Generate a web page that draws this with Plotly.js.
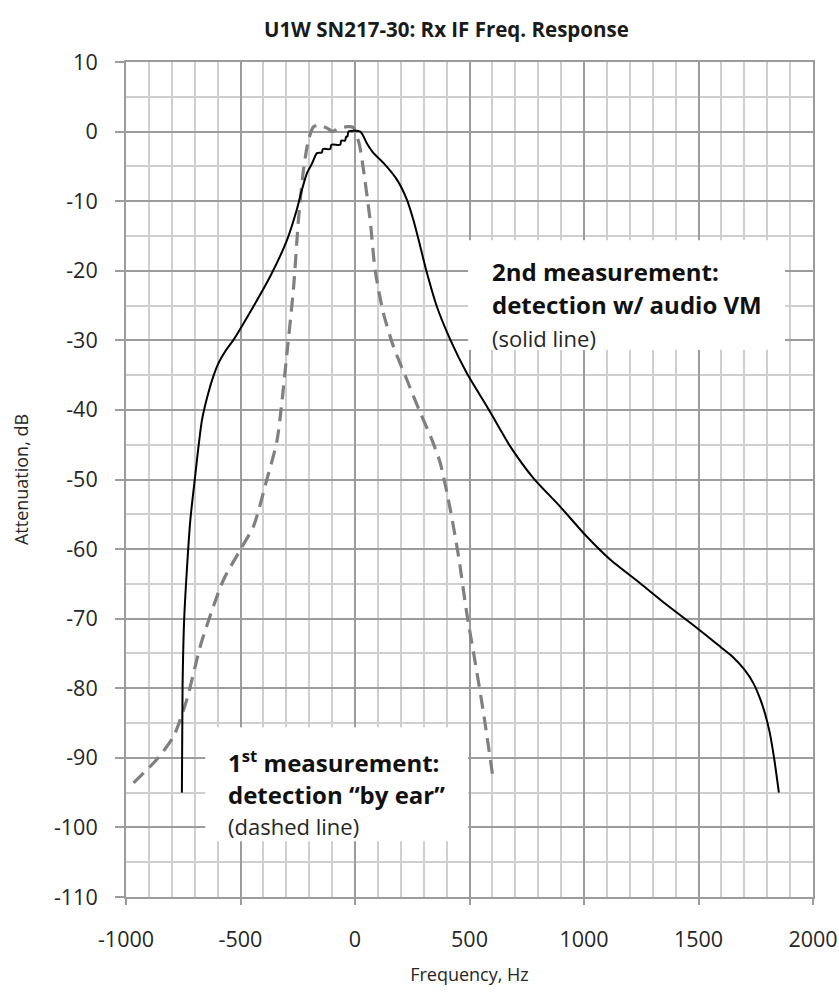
<!DOCTYPE html>
<html>
<head>
<meta charset="utf-8">
<script src="https://cdn.plot.ly/plotly-3.0.1.min.js"></script>
<style>
html,body{margin:0;padding:0;background:#fff;}
#chart{width:839px;height:1005px;}
</style>
</head>
<body>
<div id="chart"></div>
<script>
// 2nd measurement (solid line): detection with audio VM
const solidFreq = [-756, -753, -746, -734, -719, -698, -668, -640, -618, -595, -565, -530, -443, -370, -297, -254, -232, -210, -188, -166, -145, -140, -108, -103, -65, -60, -44, -38, -33, -28, 23, 52, 81, 124, 183, 227, 255, 285, 314, 357, 416, 488, 576, 634, 677, 779, 896, 1012, 1114, 1245, 1361, 1492, 1594, 1650, 1700, 1740, 1769, 1790, 1810, 1830, 1851];
const solidAtt  = [-95, -79.7, -70.1, -62.9, -55.8, -49.5, -41.4, -37.5, -35.1, -33.2, -31.5, -29.9, -25.1, -20.8, -15.6, -11.2, -8.4, -6.0, -4.6, -3.1, -3.0, -2.5, -2.5, -1.9, -1.9, -1.3, -1.3, -0.7, -0.7, 0, 0, -1.7, -3.1, -4.5, -6.9, -9.8, -12.7, -16.5, -20.3, -25.1, -29.9, -34.7, -39.5, -42.8, -45.2, -49.8, -53.9, -58.2, -61.5, -64.9, -68.0, -71.3, -74.0, -75.5, -77.3, -79.3, -81.5, -83.6, -86.2, -90.0, -95];

// 1st measurement (dashed line): detection by ear
const dashFreq = [-967, -865, -792, -734, -676, -618, -574, -501, -443, -385, -341, -297, -268, -247, -225, -203, -181, -160, -137, -108, -101, -72, -35, -7, 5, 20, 37, 66, 88, 124, 168, 227, 285, 330, 372, 416, 452, 488, 525, 561, 600];
const dashAtt  = [-93.6, -90.2, -86.9, -81.6, -74.0, -68.2, -64.4, -60.1, -56.7, -50.0, -44.5, -31.8, -22.3, -12.7, -5.5, -1.2, 0.7, 0.9, 0.7, 0.2, 0, 0.4, 0.7, 0.6, -0.3, -2.0, -5.5, -12.7, -19.9, -26.1, -30.9, -35.7, -40.4, -43.8, -47.6, -54.3, -61.0, -69.2, -76.3, -83.5, -92.3];

// axis ticks (hyphen-minus as in the reference)
const xTickVals = [-1000, -500, 0, 500, 1000, 1500, 2000];
const xTickText = ['-1000', '-500', '0', '500', '1000', '1500', '2000'];
const yTickVals = [10, 0, -10, -20, -30, -40, -50, -60, -70, -80, -90, -100, -110];
const yTickText = ['10', '0', '-10', '-20', '-30', '-40', '-50', '-60', '-70', '-80', '-90', '-100', '-110'];

const chartTitle = 'U1W SN217-30: Rx IF Freq. Response';
const xTitle = 'Frequency, Hz';
const yTitle = 'Attenuation, dB';

const FONT = '"Open Sans", Lato, "DejaVu Sans", sans-serif';
const MAJOR = '#9c9c9c';
const MINOR = '#cfcfcf';
const TXT = '#262626';

const traces = [
  {x: dashFreq, y: dashAtt, type: 'scatter', mode: 'lines', name: '1st measurement',
   line: {color: '#808080', width: 3.2, dash: '14px,8px', shape: 'spline', smoothing: 0.7}, hoverinfo: 'x+y'},
  {x: solidFreq, y: solidAtt, type: 'scatter', mode: 'lines', name: '2nd measurement',
   line: {color: '#000000', width: 2, shape: 'spline', smoothing: 0.7}, hoverinfo: 'x+y'}
];

const layout = {
  width: 839, height: 1005,
  margin: {l: 126, r: 26, t: 62, b: 108},
  paper_bgcolor: '#ffffff', plot_bgcolor: '#ffffff',
  showlegend: false,
  font: {family: FONT, color: TXT, size: 18},
  title: {text: '<b>' + chartTitle + '</b>', x: 0.532, xanchor: 'center', xref: 'container',
          y: 0.970, yanchor: 'middle', yref: 'container', font: {size: 20.5, color: '#1a1a1a', family: FONT}},
  xaxis: {
    range: [-1000, 2000], tickmode: 'array', tickvals: xTickVals, ticktext: xTickText, fixedrange: true,
    showgrid: true, gridcolor: MAJOR, gridwidth: 2,
    minor: {tickmode: 'linear', tick0: 0, dtick: 100, showgrid: true, gridcolor: MINOR, gridwidth: 2, ticks: ''},
    ticks: 'outside', ticklen: 6, tickwidth: 2, tickcolor: MAJOR,
    showline: true, linecolor: MAJOR, linewidth: 2, mirror: true,
    zeroline: false,
    tickfont: {size: 21.5, color: TXT}, ticklabelstandoff: 16,
    title: {text: xTitle, font: {size: 18, color: TXT}, standoff: 17}
  },
  yaxis: {
    range: [-110, 10], tickmode: 'array', tickvals: yTickVals, ticktext: yTickText, fixedrange: true,
    showgrid: true, gridcolor: MAJOR, gridwidth: 2,
    minor: {tickmode: 'linear', tick0: 0, dtick: 5, showgrid: true, gridcolor: MINOR, gridwidth: 2, ticks: ''},
    ticks: 'outside', ticklen: 9, tickwidth: 2, tickcolor: MAJOR,
    showline: true, linecolor: MAJOR, linewidth: 2, mirror: true,
    zeroline: false,
    tickfont: {size: 21.5, color: TXT}, ticklabelstandoff: 13,
    title: {text: yTitle, font: {size: 18, color: TXT}, standoff: 21}
  },
  shapes: [
    {type: 'rect', xref: 'x', yref: 'y', x0: 494, x1: 1878, y0: -31.4, y1: -15.6,
     fillcolor: '#ffffff', line: {width: 0}, layer: 'above'},
    {type: 'rect', xref: 'x', yref: 'y', x0: -654, x1: 494, y0: -102, y1: -85.6,
     fillcolor: '#ffffff', line: {width: 0}, layer: 'above'}
  ],
  annotations: [
    {text: '<b>2nd measurement:</b>', x: 590, y: -20.1, xref: 'x', yref: 'y', xanchor: 'left', yanchor: 'middle', showarrow: false, font: {size: 24, color: '#111'}},
    {text: '<b>detection w/ audio VM</b>', x: 590, y: -24.9, xref: 'x', yref: 'y', xanchor: 'left', yanchor: 'middle', showarrow: false, font: {size: 24, color: '#111'}},
    {text: '(solid line)', x: 590, y: -29.6, xref: 'x', yref: 'y', xanchor: 'left', yanchor: 'middle', showarrow: false, font: {size: 22, color: TXT}},
    {text: '<b>1<sup>st</sup> measurement:</b>', x: -562, y: -90.5, xref: 'x', yref: 'y', xanchor: 'left', yanchor: 'middle', showarrow: false, font: {size: 24, color: '#111'}},
    {text: '<b>detection \u201cby ear\u201d</b>', x: -562, y: -95.3, xref: 'x', yref: 'y', xanchor: 'left', yanchor: 'middle', showarrow: false, font: {size: 24, color: '#111'}},
    {text: '(dashed line)', x: -562, y: -99.8, xref: 'x', yref: 'y', xanchor: 'left', yanchor: 'middle', showarrow: false, font: {size: 22, color: TXT}}
  ]
};

Plotly.newPlot('chart', traces, layout, {displayModeBar: false, staticPlot: true});
</script>
</body>
</html>
